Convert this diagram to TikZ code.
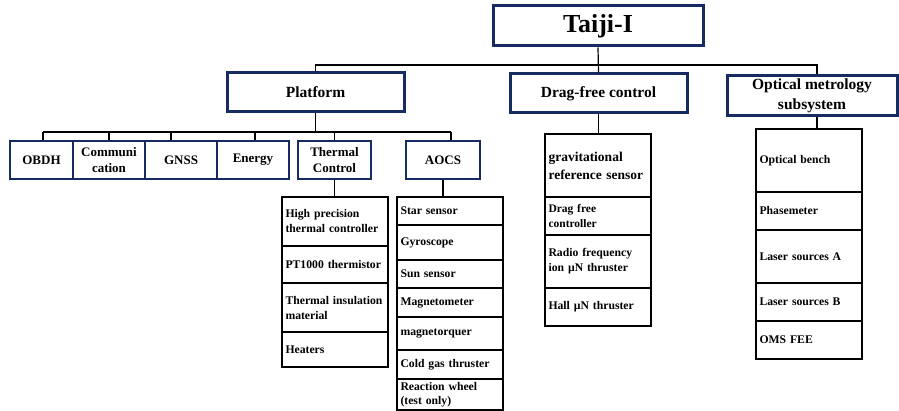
\documentclass[tikz,border=0pt]{standalone}
\usepackage{fontspec}
\setmainfont{Liberation Serif}
\definecolor{navy}{RGB}{22,43,97}
\hyphenpenalty=10000
\exhyphenpenalty=10000
\begin{document}
\begin{tikzpicture}[x=1pt,y=-1pt]
\tikzset{
 topbox/.style={draw=navy, line width=3pt, fill=white, inner sep=0pt, align=center, font=\fontsize{15.5}{20}\selectfont\bfseries},
 subbox/.style={draw=navy, line width=2.8pt, fill=white, inner sep=0pt, minimum height=38pt, align=center, font=\fontsize{13}{16.5}\selectfont\bfseries},
 cell/.style={draw=black, line width=1.1pt, inner xsep=3.5pt, inner ysep=0pt, text width=99pt, minimum width=106pt, align=left, font=\fontsize{11.7}{15}\selectfont\bfseries},
 conn/.style={draw=black, line width=1.2pt},
}
\useasboundingbox (0,0) rectangle (899,411);

% top level
\node[topbox, minimum width=210pt, minimum height=40pt, font=\fontsize{26}{30}\selectfont\bfseries] (taiji) at (598,26) {Taiji-I};
\node[topbox, minimum width=177pt, minimum height=39pt] (plat) at (315.5,92.5) {Platform};
\node[topbox, minimum width=177pt, minimum height=39pt] (drag) at (598.5,93.5) {Drag-free control};
\node[topbox, minimum width=170pt, minimum height=40pt] (opt) at (812,96) {Optical metrology\\subsystem};

% platform row
\node[subbox, minimum width=63pt] (obdh) at (41.5,160) {OBDH};
\node[subbox, minimum width=72pt] (comm) at (109,160) {Communi\\cation};
\node[subbox, minimum width=72pt] (gnss) at (181,160) {GNSS};
\node[subbox, minimum width=72pt] (energy) at (253,160) {Energy};
\node[subbox, minimum width=73pt] (therm) at (334.5,160) {Thermal\\Control};
\node[subbox, minimum width=74pt] (aocs) at (443,160) {AOCS};

% thermal list
\node[cell, minimum height=49pt] (hp) at (335,221.5) {High precision\\thermal controller};
\node[cell, minimum height=37pt] (pt) at (335,264.5) {PT1000 thermistor};
\node[cell, minimum height=49pt] (ti) at (335,307.5) {Thermal insulation\\material};
\node[cell, minimum height=35pt] (heat) at (335,349.5) {Heaters};

% AOCS list
\node[cell, minimum height=28pt] (star) at (450,211) {Star sensor};
\node[cell, minimum height=35pt] (gyro) at (450,242.5) {Gyroscope};
\node[cell, minimum height=28pt] (sun) at (450,274) {Sun sensor};
\node[cell, minimum height=29pt] (magm) at (450,302.5) {Magnetometer};
\node[cell, minimum height=33pt] (magt) at (450,333.5) {magnetorquer};
\node[cell, minimum height=29pt] (cold) at (450,364.5) {Cold gas thruster};
\node[cell, minimum height=31pt, font=\fontsize{11.7}{14}\selectfont\bfseries] (rw) at (450,394.5) {Reaction wheel\\(test only)};

% drag-free list
\node[cell, minimum height=63pt, font=\fontsize{13.5}{18}\selectfont\bfseries] (grav) at (598,165.5) {gravitational\\reference sensor};
\node[cell, minimum height=38pt, font=\fontsize{11.5}{14.5}\selectfont\bfseries] (dfc) at (598,216) {Drag free\\controller};
\node[cell, minimum height=53pt] (rf) at (598,261.5) {Radio frequency\\ion µN thruster};
\node[cell, minimum height=38pt] (hall) at (598,307) {Hall µN thruster};

% optical list
\node[cell, minimum height=63pt] (ob) at (809,160.5) {Optical bench};
\node[cell, minimum height=38pt] (pm) at (809,211) {Phasemeter};
\node[cell, minimum height=53pt] (lsa) at (809,256.5) {Laser sources A};
\node[cell, minimum height=38pt] (lsb) at (809,302) {Laser sources B};
\node[cell, minimum height=38pt] (oms) at (809,340) {OMS FEE};

% connectors
\coordinate (tb) at (598,65);
\coordinate (pb) at (316,132);
\draw[conn] (taiji.south) -- (drag.north);
\draw[conn] (plat.north) |- (tb) -| ([xshift=5pt]opt.north);
\draw[conn] (plat.south) -- (plat.south |- pb);
\draw[conn] ([xshift=1.5pt]obdh.north |- pb) -- ([xshift=8pt]aocs.north |- pb);
\draw[conn] ([xshift=1.5pt]obdh.north) -- ([xshift=1.5pt]obdh.north |- pb);
\draw[conn] (comm.north) -- (comm.north |- pb);
\draw[conn] ([xshift=-10pt]gnss.north) -- ([xshift=-10pt]gnss.north |- pb);
\draw[conn] ([xshift=2pt]energy.north) -- ([xshift=2pt]energy.north |- pb);
\draw[conn] (therm.north) -- (therm.north |- pb);
\draw[conn] ([xshift=8pt]aocs.north) -- ([xshift=8pt]aocs.north |- pb);
\draw[conn] (therm.south) -- (therm.south |- hp.north);
\draw[conn] (aocs.south) -- (aocs.south |- star.north);
\draw[conn] (drag.south) -- (drag.south |- grav.north);
\draw[conn] ([xshift=5pt]opt.south) -- ([xshift=5pt]opt.south |- ob.north);
\end{tikzpicture}
\end{document}
